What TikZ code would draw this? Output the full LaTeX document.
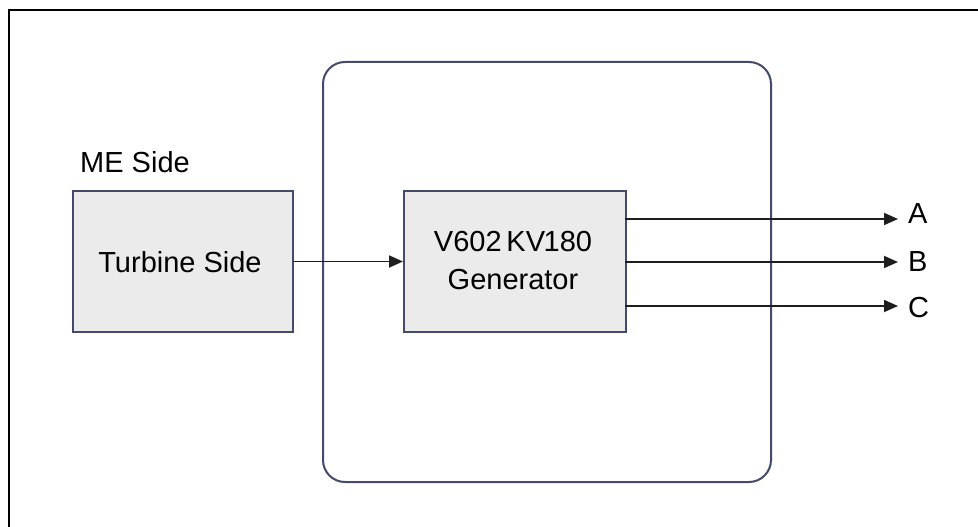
\documentclass[tikz,border=0pt]{standalone}
\usepackage{fontspec}
\setmainfont{Liberation Sans}
\usetikzlibrary{arrows.meta}
\definecolor{boxline}{HTML}{434A6B}
\definecolor{boxfill}{HTML}{EBEBEB}
\definecolor{arrowc}{HTML}{1E1E1E}
\begin{document}
\begin{tikzpicture}[x=1pt,y=-1pt,
  txt/.style={font=\fontsize{29}{38}\selectfont, inner sep=0pt, align=center},
  blk/.style={draw=boxline, line width=2pt, fill=boxfill},
  conn/.style={draw=arrowc, line width=1.8pt, -{Triangle[length=14pt,width=12pt]}}]
\useasboundingbox (0,0) rectangle (978,527);
% outer frame (top and left edges visible)
\draw[line width=2.4pt, black] (9,527) -- (9,10) -- (978,10);
% container
\draw[boxline, line width=2pt, rounded corners=22pt] (323,62) rectangle (771,482);
% blocks
\node[blk, minimum width=220pt, minimum height=141pt, anchor=north west] (turb) at (72,190) {};
\node[txt] (turbt) at (180,262) {Turbine Side};
\node[txt, anchor=west] (me) at (80,162) {ME Side};
\node[blk, minimum width=222pt, minimum height=141pt, anchor=north west] (gen) at (403,190) {};
\node[txt] (gent) at (513,261) {V602\,KV\kern-1.5pt180\\Generator};
% outputs
\coordinate (ga) at (625,219);
\coordinate (gb) at (625,262);
\coordinate (gc) at (625,306);
\node[txt, anchor=west] (A) at (908,214) {A};
\node[txt, anchor=west] (B) at (908,262) {B};
\node[txt, anchor=west] (C) at (908,308) {C};
\coordinate (ea) at (898,219);
\coordinate (eb) at (898,262);
\coordinate (ec) at (898,306);
\draw[conn] (turb.east) -- (gen.west);
\draw[conn] (ga) -- (ea);
\draw[conn] (gb) -- (eb);
\draw[conn] (gc) -- (ec);
\end{tikzpicture}
\end{document}
